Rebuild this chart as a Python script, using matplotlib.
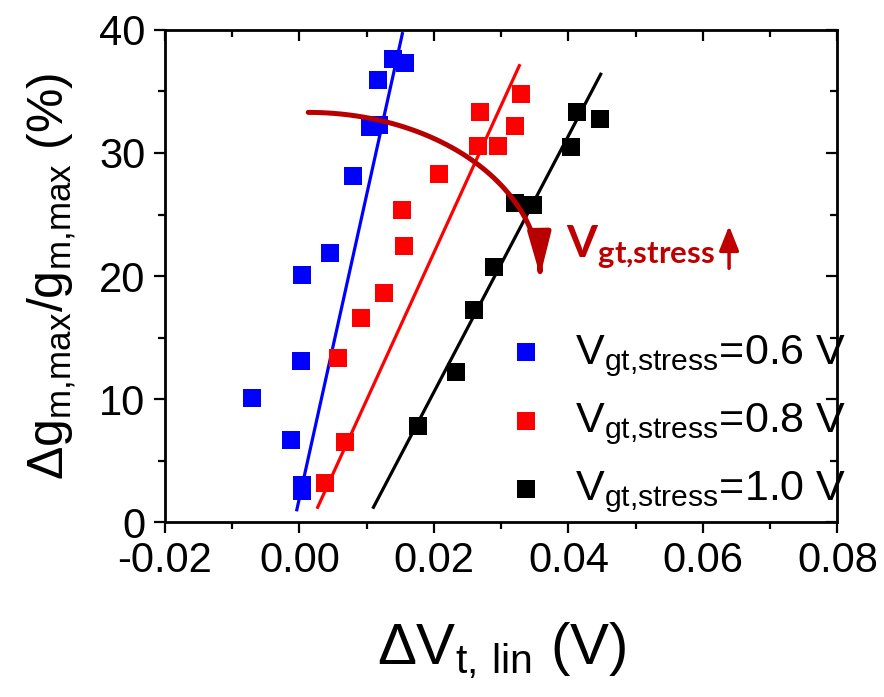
import numpy as np
import matplotlib
matplotlib.use("Agg")
import matplotlib.pyplot as plt
from matplotlib.patches import FancyArrowPatch
from matplotlib.path import Path
from matplotlib.ticker import MultipleLocator

plt.rcParams['font.family'] = ['Liberation Sans', 'DejaVu Sans']
plt.rcParams['mathtext.default'] = 'regular'

# transconductance degradation vs threshold shift, three stress voltages
x_06 = [-0.0070, -0.0013, 0.0003, 0.0004, 0.0002, 0.0003, 0.0045, 0.0079, 0.0105, 0.0118, 0.0117, 0.0139, 0.0157]
y_06 = [10.1, 6.7, 2.5, 3.0, 13.1, 20.1, 21.9, 28.1, 32.1, 32.3, 35.9, 37.6, 37.3]

x_08 = [0.0038, 0.0067, 0.0057, 0.0092, 0.0125, 0.0156, 0.0153, 0.0207, 0.0266, 0.0296, 0.0321, 0.0269, 0.0329]
y_08 = [3.2, 6.5, 13.3, 16.6, 18.6, 22.4, 25.4, 28.3, 30.6, 30.6, 32.2, 33.3, 34.8]

x_10 = [0.0177, 0.0233, 0.0260, 0.0290, 0.0321, 0.0347, 0.0404, 0.0413, 0.0447]
y_10 = [7.8, 12.2, 17.2, 20.7, 25.9, 25.8, 30.5, 33.3, 32.8]

# linear fits (end points)
fit_x_06 = [-0.0004, 0.0153]
fit_y_06 = [1.0, 39.7]
fit_x_08 = [0.0027, 0.0327]
fit_y_08 = [1.2, 37.1]
fit_x_10 = [0.0110, 0.0448]
fit_y_10 = [1.2, 36.4]

labels = ['0.6 V', '0.8 V', '1.0 V']
colors = ['#0000FF', '#FF0000', '#000000']

fig = plt.figure(figsize=(8.84, 6.97), dpi=100)
ax = fig.add_axes([0.1867, 0.251, 0.7605, 0.706])

series = [(x_06, y_06, fit_x_06, fit_y_06),
          (x_08, y_08, fit_x_08, fit_y_08),
          (x_10, y_10, fit_x_10, fit_y_10)]
handles = []
for (xs, ys, fx, fy), c, lab in zip(series, colors, labels):
    ax.plot(fx, fy, color=c, lw=2.3, zorder=2)
    h = ax.scatter(xs, ys, marker='s', s=150, color=c, linewidths=0, zorder=3)
    handles.append(h)

ax.set_xlim(-0.02, 0.08)
ax.set_ylim(0, 40)
ax.xaxis.set_major_locator(MultipleLocator(0.02))
ax.xaxis.set_minor_locator(MultipleLocator(0.01))
ax.yaxis.set_major_locator(MultipleLocator(10))
ax.yaxis.set_minor_locator(MultipleLocator(5))
ax.set_xticks(ax.get_xticks())
ax.set_xticklabels(['%.2f' % v for v in ax.get_xticks()])
ax.set_xlim(-0.02, 0.08)
ax.tick_params(which='major', direction='out', length=8, width=1.6, labelsize=30, pad=6)
ax.tick_params(which='minor', direction='out', length=5, width=1.6)
for sp in ax.spines.values():
    sp.set_linewidth(2)

# inward ticks on top and right
top = ax.secondary_xaxis('top')
top.xaxis.set_major_locator(MultipleLocator(0.02))
top.xaxis.set_minor_locator(MultipleLocator(0.01))
top.tick_params(which='major', direction='in', length=8, width=1.6, labeltop=False)
top.tick_params(which='minor', direction='in', length=5, width=1.6)
right = ax.secondary_yaxis('right')
right.yaxis.set_major_locator(MultipleLocator(10))
right.yaxis.set_minor_locator(MultipleLocator(5))
right.tick_params(which='major', direction='in', length=8, width=1.6, labelright=False)
right.tick_params(which='minor', direction='in', length=5, width=1.6)

ax.set_xlabel(r'$\Delta V_{t{,}\ lin}$ (V)', fontsize=42)
ax.xaxis.set_label_coords(0.5, -0.2)
ax.set_ylabel(r'$\Delta g_{m{,}max}/g_{m{,}max}$ (%)', fontsize=36)
ax.yaxis.set_label_coords(-0.13, 0.5)

leg = ax.legend(handles, [r'$V_{gt{,}stress}$=' + l for l in labels],
                loc='upper left', bbox_to_anchor=(0.48, 0.42), frameon=False,
                fontsize=31, handlelength=1.0, handletextpad=0.62,
                labelspacing=0.52, scatterpoints=1, borderaxespad=0)

# arrow sweeping toward higher stress voltage
dark_red = '#B80000'
theta = np.linspace(np.pi / 2, 0.0, 60)
arc_x = 0.0013 + 0.0345 * np.cos(theta)
arc_y = 20.0 + 13.3 * np.sin(theta)
arc = FancyArrowPatch(path=Path(np.column_stack([arc_x, arc_y])),
                      arrowstyle='-|>,head_length=1.3,head_width=0.35',
                      mutation_scale=20, color=dark_red, lw=3.6, zorder=4)
ax.add_patch(arc)

ax.text(0.0396, 21.5, r'$V_{gt{,}stress}$', color='#C00000', fontsize=32,
        fontweight='bold', family=['Lato', 'DejaVu Sans'], ha='left', va='baseline')
ax.annotate('', xy=(0.0639, 24.3), xytext=(0.0639, 20.4),
            arrowprops=dict(arrowstyle='-|>,head_length=0.75,head_width=0.3',
                            mutation_scale=20, color='#C00000', lw=2.5))

fig.savefig('out.png', dpi=100)
